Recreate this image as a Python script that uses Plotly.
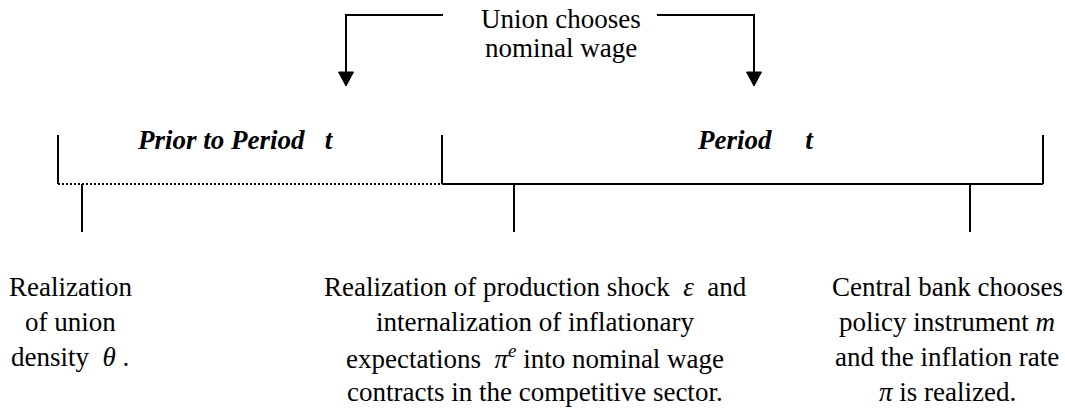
import plotly.graph_objects as go

W, H = 1065, 416
FONT = "Liberation Serif"

# ---- timeline structure (pixel-like data coordinates) ----
period_edges = [58, 442, 1043]          # start of prior period, start of period t, end of period t
timeline_y = 184
edge_top_y = 135
event_x = [82, 514, 970]                 # event tick marks
event_bottom_y = 232

period_titles = ["<b><i>Prior to Period\u00a0\u00a0\u00a0t</i></b>",
                 "<b><i>Period\u00a0\u00a0\u00a0\u00a0\u00a0t</i></b>"]
title_x = [235, 755]
title_y = 140

# ---- union bracket ----
union_lines = ["Union chooses", "nominal wage"]
union_x = 561
union_line_y = [19, 48]
arrow_x = [346, 754]
bracket_inner_x = [443, 657]
bracket_y = 15
arrow_tip_y = 86
head_h = 14
head_w = 15

# ---- event descriptions ----
event_text = [
    ["Realization", "of union", "density \u00a0<i>θ</i> ."],
    ["Realization of production shock \u00a0<i>ε</i> \u00a0and",
     "internalization of inflationary",
     "expectations \u00a0<i>π</i><sup><i>e</i></sup> into nominal wage",
     "contracts in the competitive sector."],
    ["Central bank chooses", "policy instrument <i>m</i>",
     "and the inflation rate", "<i>π</i> is realized."],
]
event_text_x = [70, 535, 947]
event_line_y = [287, 322, 357, 392]

fig = go.Figure()
LW = 2

# dotted prior-period line
fig.add_trace(go.Scatter(x=[period_edges[0], period_edges[1]], y=[timeline_y, timeline_y],
                         mode="lines", line=dict(color="black", width=LW, dash="2px,2px"),
                         hoverinfo="skip"))

# solid segments
xs, ys = [], []
xs += [period_edges[1], period_edges[2], None]
ys += [timeline_y, timeline_y, None]
for e in period_edges:
    xs += [e, e, None]
    ys += [edge_top_y, timeline_y, None]
for e in event_x:
    xs += [e, e, None]
    ys += [timeline_y, event_bottom_y, None]
for ax, bx in zip(arrow_x, bracket_inner_x):
    xs += [bx, ax, ax, None]
    ys += [bracket_y, bracket_y, arrow_tip_y - head_h + 1, None]
fig.add_trace(go.Scatter(x=xs, y=ys, mode="lines",
                         line=dict(color="black", width=LW), hoverinfo="skip"))

# arrow heads
hx, hy = [], []
for ax in arrow_x:
    hx += [ax - head_w / 2, ax + head_w / 2, ax, ax - head_w / 2, None]
    hy += [arrow_tip_y - head_h, arrow_tip_y - head_h, arrow_tip_y, arrow_tip_y - head_h, None]
fig.add_trace(go.Scatter(x=hx, y=hy, mode="lines", fill="toself", fillcolor="black",
                         line=dict(color="black", width=1), hoverinfo="skip"))

annotations = []
def add_text(x, y, t, size=27):
    annotations.append(dict(x=x, y=y, text=t, showarrow=False, xref="x", yref="y",
                            xanchor="center", yanchor="middle",
                            font=dict(family=FONT, size=size, color="black")))

for t, x in zip(period_titles, title_x):
    add_text(x, title_y, t)
for t, y in zip(union_lines, union_line_y):
    add_text(union_x, y, t)
for lines, x in zip(event_text, event_text_x):
    for t, y in zip(lines, event_line_y):
        add_text(x, y, t)

fig.update_layout(
    width=W, height=H, margin=dict(l=0, r=0, t=0, b=0),
    paper_bgcolor="white", plot_bgcolor="white", showlegend=False,
    font=dict(family=FONT, color="black"),
    xaxis=dict(range=[0, W], visible=False, fixedrange=True),
    yaxis=dict(range=[H, 0], visible=False, fixedrange=True),
    annotations=annotations,
)

fig.write_html("out.html", config={"displayModeBar": False},
               post_script="document.body.style.margin='0';document.body.style.overflow='hidden';")
